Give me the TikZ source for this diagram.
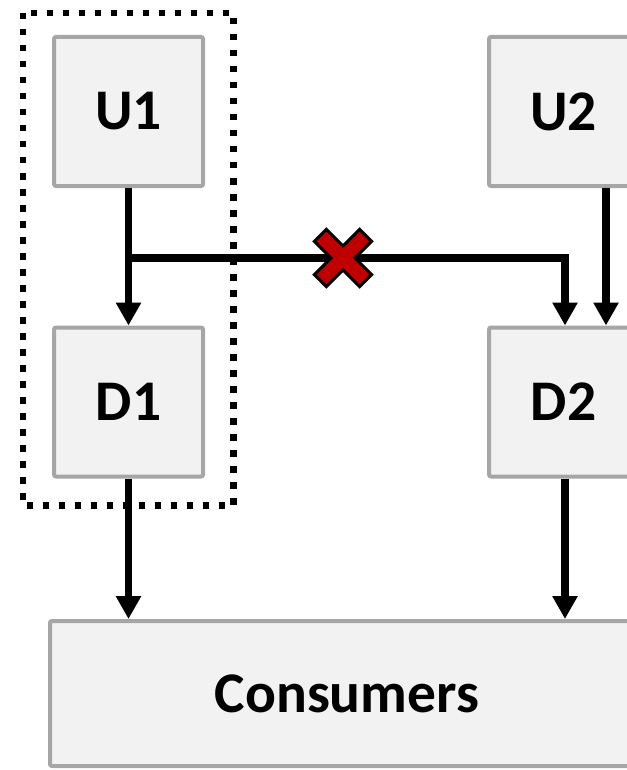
\documentclass[tikz,border=0pt]{standalone}
\usepackage{fontspec}
\setmainfont{Carlito}
\usetikzlibrary{arrows.meta}
\definecolor{boxfill}{HTML}{F2F2F2}
\definecolor{boxline}{HTML}{A6A6A6}
\definecolor{xred}{HTML}{C00000}
\begin{document}
\begin{tikzpicture}[x=1pt,y=-1pt,
  box/.style={draw=boxline,fill=boxfill,line width=4pt,rounded corners=2pt,inner sep=0pt,
    font=\fontsize{57.5}{62}\selectfont\bfseries},
  sq/.style={box,minimum width=149pt,minimum height=149pt},
  arr/.style={line width=7.5pt,-{Triangle[width=24pt,length=23pt]}}]
\useasboundingbox (0,0) rectangle (626,770);
\node[sq] (U1) at (128.5,111.5) {U1};
\node[sq] (U2) at (563.5,111.5) {U2};
\node[sq] (D1) at (128.5,402) {D1};
\node[sq] (D2) at (563.5,402) {D2};
\node[box,minimum width=594pt,minimum height=145pt] (C) at (347,693.5) {Consumers};
\draw[line width=6.5pt,dash pattern=on 6.5pt off 9.5pt] (23,13) rectangle (233.5,505.5);
\coordinate (j) at (U1.south |- 0,258);
\coordinate (d2in) at ([xshift=1.5pt]D2.north);
\coordinate (u2out) at ([xshift=42.5pt]U2.south);
\coordinate (d2out) at ([xshift=1.5pt]D2.south);
\draw[arr] (U1.south) -- (D1.north);
\draw[arr] (j) -| (d2in);
\draw[arr] (u2out) -- (u2out |- D2.north);
\draw[arr] (D1.south) -- (D1.south |- C.north);
\draw[arr] (d2out) -- (d2out |- C.north);
\node[inner sep=0pt] (cross) at (343,258) {};
\begin{scope}[shift={(cross.center)},rotate=45]
\draw[fill=xred,line width=3pt,line join=miter]
  (8.5,8.5) -- (32,8.5) -- (32,-8.5) -- (8.5,-8.5) -- (8.5,-32) -- (-8.5,-32) -- (-8.5,-8.5)
  -- (-32,-8.5) -- (-32,8.5) -- (-8.5,8.5) -- (-8.5,32) -- (8.5,32) -- cycle;
\end{scope}
\end{tikzpicture}
\end{document}
